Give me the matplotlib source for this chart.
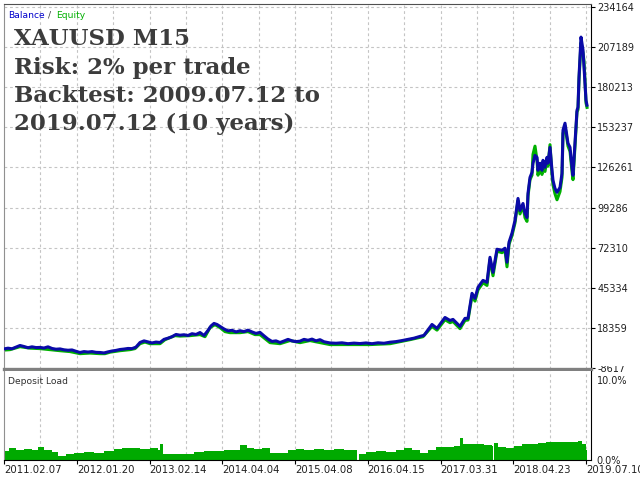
import matplotlib
matplotlib.use('Agg')
import matplotlib.pyplot as plt
from matplotlib.transforms import Bbox, TransformedBbox

# timeline position (0 = left edge of the chart, 587 = right edge)
bal_x = [0, 4, 8, 12, 16, 20, 24, 28, 32, 36, 40, 44, 48, 52, 56, 60, 64, 68, 72, 76, 80, 84, 88,
         92, 96, 100, 104, 108, 112, 116, 120, 124, 128, 132, 136, 140, 144, 148, 152, 156, 160,
         164, 168, 172, 176, 180, 184, 188, 192, 196, 200, 204, 207, 210, 213, 216, 220, 224, 228,
         232, 236, 240, 244, 248, 252, 256, 260, 264, 268, 272, 276, 280, 284, 288, 292, 296, 300,
         304, 308, 312, 316, 320, 326, 332, 338, 344, 350, 356, 362, 368, 374, 380, 386, 392, 398,
         404, 410, 416, 420, 428, 433, 441, 446, 449, 456, 461, 464, 468,
         471, 474, 479, 483, 486, 489, 493, 498, 501, 503, 505, 508, 511, 513, 514, 516, 519, 521,
         523, 524, 526, 528, 529, 531, 533, 534, 536, 538, 539, 541, 543, 544, 546, 548, 549, 551,
         553, 556, 558, 559, 561, 564, 566, 568, 569, 571, 573, 574, 575, 577, 579, 580, 581, 582, 583]

balance = [4400, 4900, 4500, 5600, 6700, 6000, 5200, 5800, 5300, 5400, 5000, 5800, 4700, 4200, 4400,
           3800, 3500, 3700, 2800, 2000, 2600, 2300, 2600, 2100, 2000, 1700, 2400, 3000, 3400, 4000,
           4300, 4700, 4600, 5600, 8700, 9800, 9100, 8400, 9000, 8700, 10800, 11600, 12600, 14100,
           13600, 13900, 13400, 14600, 14100, 15400, 13400, 16800, 19800, 21500, 20800, 19500, 17800,
           16500, 16900, 15800, 16600, 16000, 17000, 15800, 14800, 15500, 13200, 11000, 9400, 9800,
           8700, 9700, 10800, 9800, 9300, 9600, 10800, 10200, 11000, 9800, 10600, 9200, 8400, 8200,
           8500, 7900, 8300, 8000, 8400, 7900, 8500, 8200, 8900, 9300, 10000, 10800, 11600, 12800,
           13500, 20800, 18200, 25500, 23500, 24200, 19500, 24900, 24900, 41700,
           38300, 45700, 50400, 49100, 65900, 55800, 71300, 70600, 72000, 62600, 76000,
           82100, 90600, 100700, 105400, 97300, 102000, 95300, 92600, 108800, 119500, 122900, 129000,
           134300, 133000, 124300, 129000, 124300, 131000, 126300, 133000, 129000, 139700, 124300,
           117500, 112100, 109500, 112800, 122200, 151200, 155900, 142400, 139700, 126300, 120900,
           142400, 164600, 166600, 186800, 213700, 205000, 193500, 182800, 171300, 168000]

eq_x = [0, 6, 16, 26, 36, 46, 56, 66, 76, 86, 96, 101, 106, 116, 126, 131, 136, 141, 146, 156,
        161, 171, 176, 186, 196, 201, 206, 211, 216, 221, 226, 236, 244, 251, 256, 266, 276, 286,
        296, 306, 311, 326, 346, 366, 386, 406, 419, 428, 433, 441, 446, 449, 456, 461, 464, 468,
        471, 474, 479, 483, 486, 489, 493, 498, 501, 503, 505, 508, 511, 513, 514, 516, 519, 521,
        523, 524, 526, 528, 529, 531, 533, 534, 536, 538, 539, 541, 543, 544, 546, 548, 549, 551,
        553, 556, 558, 559, 561, 564, 566, 568, 569, 571, 573, 574, 575, 577, 579, 580, 581, 582, 583]

equity = [3600, 3900, 5900, 4900, 4600, 3900, 3200, 2600, 1200, 1600, 1200, 1200, 2200, 3200, 3900,
          4600, 7900, 9000, 7900, 7900, 10600, 13300, 13000, 13300, 14000, 12600, 18700, 20700,
          18700, 16000, 15300, 15300, 16000, 14000, 14000, 8600, 7900, 10000, 8600, 10000, 9300,
          7300, 7300, 7300, 7900, 10600, 12600, 19500, 17000, 24000, 22000, 22800, 18000, 23500,
          23800, 40000, 36500, 44000, 48800, 47000, 64500, 53500, 70000, 69000, 70500, 59500, 74500,
          80500, 89000, 99000, 104000, 95000, 100500, 92500, 90000, 107000, 118000, 121000, 135000,
          140500, 131000, 121000, 127000, 121500, 129500, 123500, 131500, 127000, 141500, 121500,
          114500, 108500, 104500, 110000, 119500, 149000, 154000, 140500, 137000, 123500, 118000,
          140500, 163500, 165000, 185000, 210000, 203000, 197500, 184500, 169500, 166500]

load_x = [0, 5, 12, 20, 28, 34, 40, 48, 54, 62, 70, 80, 90, 100, 110, 118, 126, 136, 146, 154, 156,
          159, 170, 180, 190, 200, 210, 220, 230, 236, 243, 250, 258, 266, 276, 284, 292, 300, 310,
          320, 330, 340, 350, 353, 355, 362, 372, 382, 392, 400, 408, 416, 424, 432, 440, 450, 456,
          459, 470, 480, 488, 489, 490, 494, 502, 510, 518, 526, 534, 542, 550, 558, 566, 574, 578,
          582, 583]
load = [1.1, 1.5, 1.3, 1.4, 1.3, 1.6, 1.3, 1.0, 0.5, 0.8, 0.9, 1.0, 0.9, 1.1, 1.4, 1.5, 1.5, 1.4,
        1.5, 1.3, 2.0, 0.75, 0.7, 0.8, 1.0, 1.1, 1.1, 1.2, 1.3, 1.9, 1.5, 1.4, 1.5, 0.9, 0.9, 1.3,
        1.4, 1.3, 1.4, 1.3, 1.4, 1.3, 1.2, 0.0, 0.7, 1.0, 1.1, 1.0, 1.3, 1.5, 1.3, 0.9, 1.2, 1.6,
        1.6, 1.7, 2.75, 2.0, 2.0, 1.9, 1.8, 0.0, 2.1, 1.6, 1.5, 1.7, 2.0, 2.0, 2.1, 2.2, 2.3, 2.2,
        2.3, 2.4, 2.0, 1.3, 0.0]

y_ticks = [-8617, 18359, 45334, 72310, 99286, 126261, 153237, 180213, 207189, 234164]
date_labels = ['2011.02.07', '2012.01.20', '2013.02.14', '2014.04.04', '2015.04.08',
               '2016.04.15', '2017.03.31', '2018.04.23', '2019.07.10']

title_lines = ['XAUUSD M15', 'Risk: 2% per trade', 'Backtest: 2009.07.12 to', '2019.07.12 (10 years)']

W, H = 640, 480
fig = plt.figure(figsize=(6.4, 4.8), dpi=100)

def box(l, t, r, b):
    return [l / W, 1 - b / H, (r - l) / W, (b - t) / H]

ax = fig.add_axes(box(4, 4, 591, 369))
ax2 = fig.add_axes(box(4, 371, 591, 460))

grid_x = [i * 36.375 for i in range(1, 17)]
grid_col = '#c4c4c4'

# main panel
for gx in grid_x:
    ax.axvline(gx, color=grid_col, lw=0.8, dashes=(2.5, 2.5), zorder=0)
for gy in y_ticks[1:]:
    ax.axhline(gy, color=grid_col, lw=0.8, dashes=(2.5, 2.5), zorder=0)
ax.plot(eq_x, equity, color='#00b000', lw=2.2, zorder=2)
ax.plot(bal_x, balance, color='#0a0aa8', lw=2.2, zorder=3)
ax.set_xlim(0, 587)
ax.set_ylim(-9087, 235909)
ax.set_xticks([])
ax.yaxis.tick_right()
ax.set_yticks(y_ticks)
ax.set_yticklabels([str(v) for v in y_ticks])
ax.tick_params(axis='y', length=3, width=0.8, pad=1.5, labelsize=7, labelcolor='#202020')
ax.spines['top'].set_color('#505050')
ax.spines['left'].set_color('#909090')
ax.spines['right'].set_color('#000000')
ax.spines['bottom'].set_color('#808080')
ax.spines['bottom'].set_linewidth(2.4)

# -8617 label is partly hidden by the panel separator
lab = ax.yaxis.get_major_ticks()[0].label2
lab.set_clip_box(TransformedBbox(Bbox([[0.9, 0.0], [1.0, (H - 366) / H]]), fig.transFigure))
lab.set_clip_on(True)

# deposit load panel
for gx in grid_x:
    ax2.axvline(gx, color=grid_col, lw=0.8, dashes=(2.5, 2.5), zorder=0)
ax2.fill_between(load_x, load, step='post', color='#00aa00', lw=0, zorder=2)
ax2.set_xlim(0, 587)
ax2.set_ylim(0, 11.125)
ax2.yaxis.tick_right()
ax2.set_yticks([0, 10])
ax2.set_yticklabels(['0.0%', '10.0%'])
ax2.tick_params(axis='y', length=0, pad=4, labelsize=7, labelcolor='#202020')
ax2.set_xticks([i * 72.75 for i in range(9)])
ax2.set_xticklabels(date_labels, ha='left')
ax2.tick_params(axis='x', length=3, width=0.8, pad=0.5, labelsize=7.3, labelcolor='#202020')
ax2.spines['top'].set_visible(False)
ax2.spines['left'].set_color('#909090')
ax2.spines['right'].set_color('#000000')
ax2.spines['bottom'].set_color('#000000')

# texts
fig.text(8 / W, 1 - 15 / H, 'Balance', color='#0000cc', fontsize=6.6, va='center')
fig.text(48 / W, 1 - 15 / H, '/', color='#404040', fontsize=6.6, va='center')
fig.text(56 / W, 1 - 15 / H, 'Equity', color='#00b000', fontsize=6.6, va='center')
fig.text(8 / W, 1 - 381 / H, 'Deposit Load', color='#303030', fontsize=6.6, va='center')

baselines = [45, 74, 102, 130]
for line, yb in zip(title_lines, baselines):
    fig.text(14 / W, 1 - yb / H, line, family='DejaVu Serif', fontweight='bold',
             fontsize=16.5, color='#3c3c3c', va='baseline')

fig.savefig('out.png', dpi=100, facecolor='white')
